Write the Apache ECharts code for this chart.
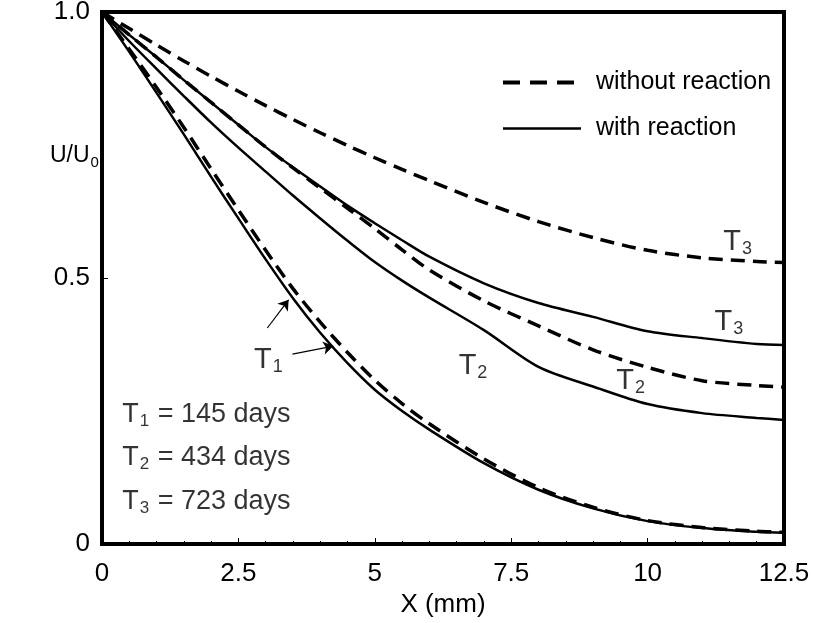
<!DOCTYPE html>
<html>
<head>
<meta charset="utf-8">
<script src="https://cdn.jsdelivr.net/npm/echarts@6/dist/echarts.min.js"></script>
<style>
html,body{margin:0;padding:0;background:#fff;}
#main{width:814px;height:623px;}
</style>
</head>
<body>
<div id="main"></div>
<script>
// ---- data ----
var xs = [0, 0.5, 1, 1.5, 2, 2.5, 3, 3.5, 4, 4.5, 5, 5.5, 6, 7, 8, 9, 10, 11, 12, 12.5];
var t1With    = [1, 0.925, 0.848, 0.77, 0.69, 0.612, 0.535, 0.462, 0.397, 0.34, 0.29, 0.25, 0.215, 0.152, 0.102, 0.067, 0.043, 0.03, 0.023, 0.021];
var t1Without = [1, 0.93, 0.858, 0.783, 0.705, 0.628, 0.552, 0.48, 0.417, 0.36, 0.308, 0.264, 0.226, 0.16, 0.106, 0.069, 0.044, 0.031, 0.024, 0.022];
var t2With    = [1, 0.945, 0.893, 0.842, 0.792, 0.745, 0.70, 0.655, 0.612, 0.57, 0.53, 0.495, 0.463, 0.402, 0.333, 0.296, 0.263, 0.246, 0.237, 0.233];
var t2Without = [1, 0.957, 0.915, 0.872, 0.83, 0.788, 0.746, 0.707, 0.669, 0.631, 0.593, 0.553, 0.515, 0.457, 0.41, 0.365, 0.332, 0.307, 0.298, 0.295];
var t3With    = [1, 0.957, 0.915, 0.872, 0.83, 0.788, 0.746, 0.708, 0.672, 0.636, 0.603, 0.571, 0.54, 0.49, 0.453, 0.427, 0.40, 0.387, 0.376, 0.374];
var t3Without = [1, 0.969, 0.938, 0.908, 0.879, 0.851, 0.824, 0.798, 0.773, 0.749, 0.726, 0.704, 0.683, 0.642, 0.606, 0.576, 0.552, 0.538, 0.531, 0.529];

var xTicks = [0, 2.5, 5, 7.5, 10, 12.5];
var yTickLabels = {0: '0', 0.5: '0.5', 1: '1.0'};

// curve labels: [x, y, label]
var curveLabels = [
  [11.65, 0.568, '{T|T}{S|3}'],
  [11.49, 0.417, '{T|T}{S|3}'],
  [9.69, 0.306, '{T|T}{S|2}'],
  [6.80, 0.335, '{T|T}{S|2}'],
  [3.05, 0.346, '{T|T}{S|1}']
];
// period notes: [x, y, text]
var periodNotes = [
  [0.37, 0.2425, '{t|T}{s|1}{t| = 145 days}'],
  [0.37, 0.1617, '{t|T}{s|2}{t| = 434 days}'],
  [0.37, 0.079, '{t|T}{s|3}{t| = 723 days}']
];
// arrows: [[x0,y0],[x1,y1]]
var arrows = [
  [[3.03, 0.406], [3.42, 0.459]],
  [[3.49, 0.357], [4.24, 0.372]]
];

var FONT = 'Liberation Sans, Arial, Helvetica, sans-serif';
function pairs(ys){ return xs.map(function(x,i){ return [x, ys[i]]; }); }

var rich = {
  t: {fontSize: 27, fontFamily: FONT, color: '#000', lineHeight: 30, verticalAlign: 'middle'},
  s: {fontSize: 17, fontFamily: FONT, color: '#000', lineHeight: 30, verticalAlign: 'bottom', padding: [0, 1, 0, 1]},
  T: {fontSize: 29, fontFamily: FONT, color: '#000', lineHeight: 32, verticalAlign: 'middle'},
  S: {fontSize: 18, fontFamily: FONT, color: '#000', lineHeight: 32, verticalAlign: 'bottom', padding: [0, 0, 0, 1]}
};

var DASH = {color: '#000', width: 3.5, type: [14, 8]};
var SOLID = {color: '#000', width: 2.5, type: 'solid'};

function lineSeries(name, ys, dashed){
  return {
    type: 'line', name: name, data: pairs(ys), symbol: 'none', smooth: 0.3,
    lineStyle: dashed ? DASH : SOLID,
    itemStyle: {color: '#000'},
    z: 3
  };
}

var chart = echarts.init(document.getElementById('main'), null, {renderer: 'canvas'});
var option = {
  animation: false,
  backgroundColor: '#fff',
  grid: {left: 102, right: 30, top: 12, bottom: 79, show: true, borderColor: '#000', borderWidth: 4, containLabel: false, outerBoundsMode: 'none'},
  legend: {
    orient: 'vertical', left: 496, top: 64,
    itemWidth: 78, itemHeight: 14, itemGap: 19,
    data: [
      {name: 'without reaction', lineStyle: {width: 4, type: [17, 10], color: '#000'}},
      {name: 'with reaction', lineStyle: {width: 2.5, type: 'solid', color: '#000'}}
    ],
    itemStyle: {opacity: 0, borderWidth: 0},
    textStyle: {fontSize: 25, fontFamily: FONT, color: '#000', lineHeight: 27, padding: [0, 0, 0, 10]},
    selectedMode: false
  },
  xAxis: {
    type: 'value', min: 0, max: 12.5, interval: 2.5,
    name: 'X (mm)', nameLocation: 'middle', nameGap: 48,
    nameTextStyle: {fontSize: 26, fontFamily: FONT, color: '#000'},
    axisLine: {lineStyle: {color: '#000', width: 4}},
    axisTick: {inside: true, length: 6, lineStyle: {color: '#000', width: 1}},
    minorTick: {show: true, splitNumber: 5, length: 3, lineStyle: {color: '#000', width: 1}},
    splitLine: {show: false},
    axisLabel: {fontSize: 26, fontFamily: FONT, color: '#000', margin: 17,
      formatter: function(v){ return xTicks.indexOf(v) >= 0 ? String(v) : ''; }}
  },
  yAxis: {
    type: 'value', min: 0, max: 1, interval: 0.5,
    axisLine: {lineStyle: {color: '#000', width: 4}},
    axisTick: {inside: true, length: 6, lineStyle: {color: '#000', width: 1}},
    minorTick: {show: false},
    splitLine: {show: false},
    axisLabel: {fontSize: 26, fontFamily: FONT, color: '#000', margin: 12,
      formatter: function(v){ return yTickLabels[v] !== undefined ? yTickLabels[v] : ''; }}
  },
  graphic: [{
    type: 'text', left: 50, top: 144,
    style: {text: '{t|U/U}{s|0}', rich: {
      t: {fontSize: 23, fontFamily: FONT, color: '#000', lineHeight: 30, verticalAlign: 'middle'},
      s: {fontSize: 15, fontFamily: FONT, color: '#000', lineHeight: 30, verticalAlign: 'bottom', padding: [0, 0, 0, 1]}
    }}
  }],
  series: [
    lineSeries('without reaction', t3Without, true),
    lineSeries('without reaction', t2Without, true),
    lineSeries('without reaction', t1Without, true),
    lineSeries('with reaction', t3With, false),
    lineSeries('with reaction', t2With, false),
    lineSeries('with reaction', t1With, false),
    {
      type: 'scatter', name: 'labels', symbolSize: 0, silent: true, z: 5,
      data: curveLabels.map(function(d){ return {value: [d[0], d[1]], label: {formatter: d[2]}}; }),
      label: {show: true, position: 'inside', rich: rich}
    },
    {
      type: 'line', name: 'arrows', data: [], symbol: 'none', silent: true, z: 6,
      markLine: {
        silent: true, symbol: ['none', 'arrow'], symbolSize: 10,
        label: {show: false},
        itemStyle: {color: '#000'},
        lineStyle: {color: '#000', width: 1.2, type: 'solid'},
        emphasis: {disabled: true},
        data: arrows.map(function(a){ return [{coord: a[0]}, {coord: a[1]}]; })
      }
    },
    {
      type: 'scatter', name: 'notes', symbolSize: 0, silent: true, z: 5,
      data: periodNotes.map(function(d){ return {value: [d[0], d[1]], label: {formatter: d[2]}}; }),
      label: {show: true, position: 'inside', align: 'left', rich: rich}
    }
  ]
};
chart.setOption(option);
</script>
</body>
</html>
